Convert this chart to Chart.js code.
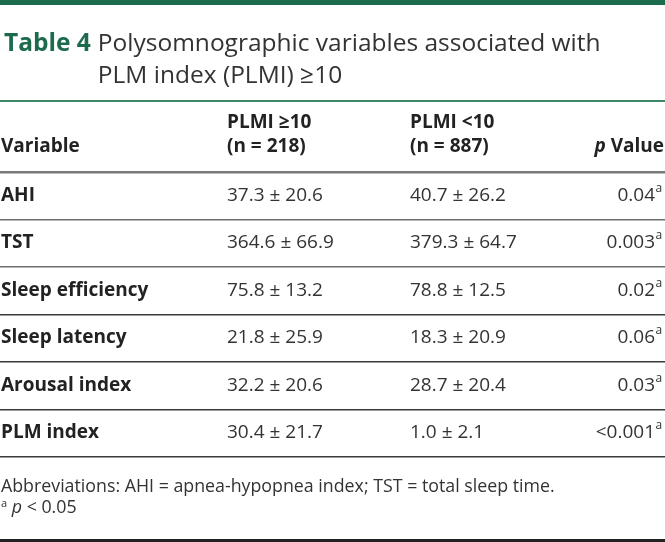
<!DOCTYPE html>
<html>
<head>
<meta charset="utf-8">
<script src="https://cdn.jsdelivr.net/npm/chart.js@4.4.1/dist/chart.umd.min.js"></script>
<style>
  html, body { margin: 0; padding: 0; background: #fff; }
  body { width: 665px; height: 542px; position: relative; overflow: hidden; font-family: "Open Sans", sans-serif; color: #2b2b2b; }
  #topbar { position: absolute; left: 0; top: 0; width: 665px; height: 5px; background: #1b6b4c; }
  #title { position: absolute; left: 4px; top: 26px; font-size: 24.5px; line-height: 32px; color: #333; display: flex; }
  #title .tag { color: #1b6b4c; font-weight: 700; margin-right: 7px; white-space: nowrap; }
  #rule { position: absolute; left: 0; top: 100px; width: 665px; height: 2px; background: #3d8767; }
  .hd { position: absolute; font-size: 19px; font-weight: 700; color: #222; line-height: 24px; white-space: nowrap; }
  #foot { position: absolute; left: 1px; top: 475px; font-size: 17.8px; line-height: 21px; color: #333; }
  #foot sup { font-size: 11px; vertical-align: 6px; line-height: 0; }
  #bottombar { position: absolute; left: 0; top: 539px; width: 665px; height: 3px; background: #222; }
  #wrap { position: absolute; left: 0; top: 0; width: 665px; height: 542px; }
</style>
</head>
<body>
<div id="wrap"><canvas id="c" width="665" height="542"></canvas></div>
<div id="topbar"></div>
<div id="title"><span class="tag">Table 4</span><span>Polysomnographic variables associated with<br>PLM index (PLMI) ≥10</span></div>
<div id="rule"></div>
<div class="hd" style="left:1px;top:133px;">Variable</div>
<div class="hd" style="left:227px;top:109px;">PLMI ≥10<br>(n = 218)</div>
<div class="hd" style="left:410px;top:109px;">PLMI &lt;10<br>(n = 887)</div>
<div class="hd" style="right:1px;top:133px;"><i>p</i> Value</div>
<div id="foot">Abbreviations: AHI = apnea-hypopnea index; TST = total sleep time.<br><sup>a</sup> <i>p</i> &lt; 0.05</div>
<div id="bottombar"></div>
<script>
// ---- data ----
const variables = ['AHI', 'TST', 'Sleep efficiency', 'Sleep latency', 'Arousal index', 'PLM index'];
const highMean = [37.3, 364.6, 75.8, 21.8, 32.2, 30.4];
const highSD   = [20.6, 66.9, 13.2, 25.9, 20.6, 21.7];
const lowMean  = [40.7, 379.3, 78.8, 18.3, 28.7, 1.0];
const lowSD    = [26.2, 64.7, 12.5, 20.9, 20.4, 2.1];
const pValues  = ['0.04', '0.003', '0.02', '0.06', '0.03', '<0.001'];
const pNotes   = ['a', 'a', 'a', 'a', 'a', 'a'];

// ---- layout (column anchors in x-scale units = px) ----
const colVar = 1, colHigh = 227, colLow = 410, colP = 655;

const fmt = (m, s) => m.toFixed(1) + ' ± ' + s.toFixed(1);

const mk = (label, x, texts, kind) => ({
  label, kind, texts,
  data: variables.map(v => ({ x, y: v })),
  pointRadius: 0, pointHoverRadius: 0, showLine: false
});

const datasets = [
  mk('Variable', colVar, variables, 'var'),
  mk('PLMI ≥10', colHigh, highMean.map((m, i) => fmt(m, highSD[i])), 'num'),
  mk('PLMI <10', colLow, lowMean.map((m, i) => fmt(m, lowSD[i])), 'num'),
  mk('p Value', colP, pValues, 'p')
];

const cellText = {
  id: 'cellText',
  afterDatasetsDraw(chart) {
    const ctx = chart.ctx;
    ctx.save();
    ctx.textBaseline = 'middle';
    chart.data.datasets.forEach((ds, di) => {
      const meta = chart.getDatasetMeta(di);
      meta.data.forEach((pt, i) => {
        const t = ds.texts[i];
        const y = pt.y - 0.5;
        if (ds.kind === 'var') {
          ctx.font = '700 19px "Open Sans"';
          ctx.fillStyle = '#222';
          ctx.textAlign = 'left';
          ctx.fillText(t, pt.x, y);
        } else if (ds.kind === 'num') {
          ctx.font = '400 19px "Open Sans"';
          ctx.fillStyle = '#333';
          ctx.textAlign = 'left';
          ctx.fillText(t, pt.x, y);
        } else {
          ctx.font = '400 19px "Open Sans"';
          ctx.fillStyle = '#333';
          ctx.textAlign = 'right';
          ctx.fillText(t, pt.x, y);
          ctx.font = '400 12px "Open Sans"';
          ctx.textAlign = 'left';
          ctx.fillText(pNotes[i], pt.x + 0.5, y - 7);
        }
      });
    });
    ctx.restore();
  }
};

const lineColor = (i, n) => i === 0 ? '#7a7a7a' : (i === n ? '#333' : (i <= 2 ? '#6f6f6f' : '#3a3a3a'));

new Chart(document.getElementById('c'), {
  type: 'scatter',
  data: { labels: variables, datasets },
  options: {
    responsive: false,
    animation: false,
    events: [],
    layout: { padding: { top: 172, bottom: 85, left: 0, right: 0 } },
    plugins: { legend: { display: false }, tooltip: { enabled: false }, title: { display: false } },
    scales: {
      x: { type: 'linear', min: 0, max: 665, display: false },
      y: {
        type: 'category', labels: variables, offset: true,
        display: true,
        border: { display: false },
        ticks: { display: false },
        afterFit: s => { s.width = 0; },
        grid: {
          offset: true,
          drawTicks: false,
          color: ctx => lineColor(ctx.index, variables.length),
          lineWidth: ctx => (ctx.index === 0 || ctx.index === variables.length) ? 2.5 : 1.5
        }
      }
    }
  },
  plugins: [cellText]
});
</script>
</body>
</html>
